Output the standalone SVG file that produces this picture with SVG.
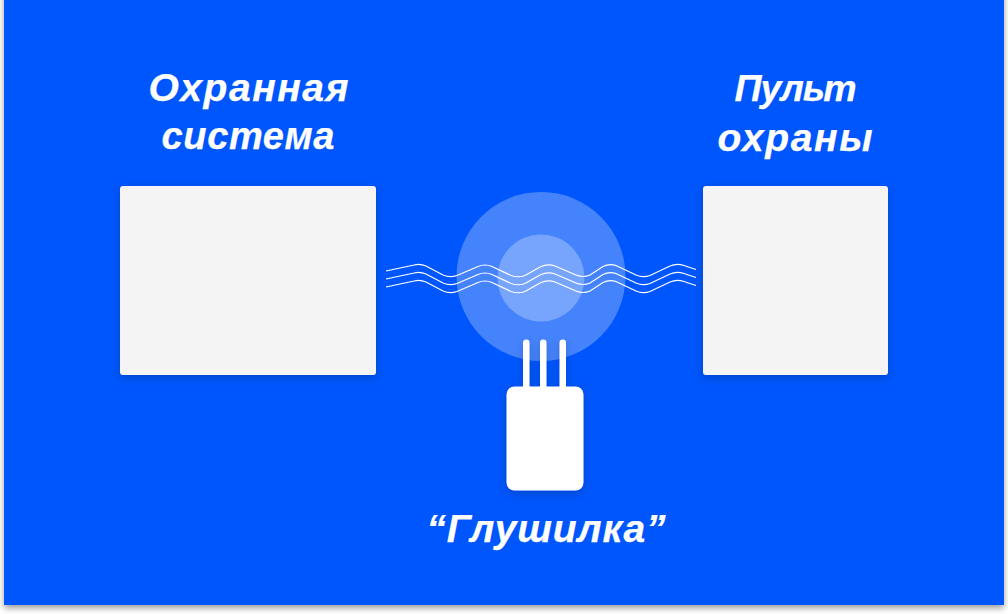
<svg xmlns="http://www.w3.org/2000/svg" width="1008" height="614" viewBox="0 0 1008 614">
<style>
.t{font-family:"Liberation Sans",Arial,sans-serif;font-weight:700;font-style:italic;font-size:39px;fill:#fff;stroke:#fff;stroke-width:.25;text-anchor:middle}
.w{fill:none;stroke:#fff;stroke-width:1.200}
.b{fill:#f4f4f4;filter:url(#s)}
</style>
<defs>
<filter id="s" x="-20%" y="-20%" width="140%" height="140%"><feDropShadow dx="0" dy="3" stdDeviation="5" flood-color="#000" flood-opacity=".2"/></filter>
<filter id="bg" x="-3%" y="-3%" width="106%" height="106%"><feDropShadow dx="0" dy="3" stdDeviation="3" flood-color="#000" flood-opacity=".4"/></filter>
<path id="wave" d="M386 271 L414 265 Q420 263.500 426 266 L443 275 Q450 278 457 275.500 L478 266.500 Q485 263.500 492 266.500 L511 275.500 Q518 278 525 275.500 L541 266.500 Q548 263.500 555 266 L576 275 Q583 278 590 275 L603 266.500 Q610 263 617 266 L636 275 Q643 278 650 275.500 L670 266 Q677 263 684 265.500 L696 269.500"/>
</defs>
<rect id="background" x="4" y="-10" width="1000" height="615" fill="#0057fd" filter="url(#bg)"/>
<g id="jam-field">
<circle cx="541" cy="276.500" r="84.500" fill="#fff" opacity=".27"/>
<circle cx="541" cy="278" r="43.500" fill="#fff" opacity=".27"/>
</g>
<g id="connectors">
<use href="#wave" class="w"/>
<use href="#wave" class="w" y="8"/>
<use href="#wave" class="w" y="16"/>
</g>
<g id="alarm-system">
<rect class="b" x="120" y="186" width="256" height="189" rx="3"/>
<text class="t" x="248.500" y="101" textLength="200" lengthAdjust="spacing">Охранная</text>
<text class="t" x="248" y="149" textLength="173" lengthAdjust="spacing" style="font-size:38px">система</text>
</g>
<g id="monitoring-station">
<rect class="b" x="703" y="186" width="185" height="189" rx="3"/>
<text class="t" x="795.500" y="101" textLength="122" lengthAdjust="spacing" style="font-size:37.500px">Пульт</text>
<text class="t" x="795" y="151" textLength="155" lengthAdjust="spacing">охраны</text>
</g>
<g id="jammer">
<g fill="#fff" filter="url(#s)">
<rect x="523" y="339.500" width="6.500" height="60" rx="3.200"/>
<rect x="540" y="339.500" width="6.500" height="60" rx="3.200"/>
<rect x="559.500" y="339.500" width="6.500" height="60" rx="3.200"/>
<rect x="506.500" y="386.500" width="77" height="104" rx="8"/>
</g>
<text class="t" x="546" y="542" textLength="239" lengthAdjust="spacing">“Глушилка”</text>
</g>
</svg>
